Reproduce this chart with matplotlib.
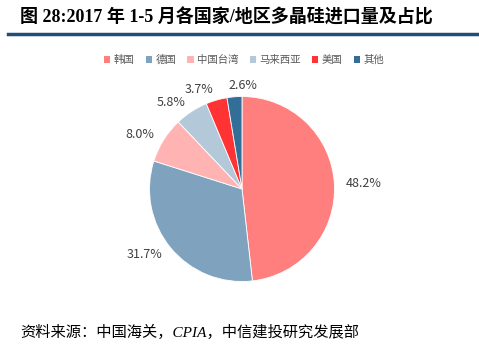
import matplotlib.pyplot as plt
from matplotlib.lines import Line2D
from matplotlib.patches import Patch

plt.rcParams['font.family'] = ['Noto Sans CJK SC', 'DejaVu Sans']

countries = ['韩国', '德国', '中国台湾', '马来西亚', '美国', '其他']
shares = [48.2, 31.7, 8.0, 5.8, 3.7, 2.6]
colors = ['#FF7F7F', '#7FA3BE', '#FFB3B3', '#B3C8D8', '#FF3333', '#336E99']

fig = plt.figure(figsize=(4.79, 3.52), dpi=100)

# title + blue rule
fig.text(20 / 479, 1 - 17 / 352, '图 28:2017 年 1-5 月各国家/地区多晶硅进口量及占比',
         fontsize=13, fontweight='bold', va='center', ha='left',
         family=['Liberation Serif', 'Noto Sans CJK SC'])
fig.add_artist(Line2D([8 / 479, 1], [1 - 34 / 352, 1 - 34 / 352],
                      color='#1F4E79', lw=2.5, transform=fig.transFigure))

ax = fig.add_axes([(242 - 92.5) / 479, 1 - (189 + 92.5) / 352,
                   185 / 479, 185 / 352])
labels = ['%.1f%%' % v for v in shares]
wedges, texts = ax.pie(shares, colors=colors, startangle=90, counterclock=False,
                       labels=labels, labeldistance=1.12,
                       wedgeprops=dict(edgecolor='white', linewidth=0.6),
                       textprops=dict(fontsize=9, color='#404040'))
ax.set_xlim(-1, 1)
ax.set_ylim(-1, 1)
ax.set_aspect('equal')
# smallest slice label sits centred above its wedge
texts[-1].set_ha('center')
texts[-1].set_x(texts[-1].get_position()[0] + 0.1)

handles = [Patch(facecolor=c, edgecolor='none') for c in colors]
fig.legend(handles, countries, loc='center', bbox_to_anchor=(244 / 479, 1 - 60 / 352),
           ncol=6, frameon=False, fontsize=7.5, handlelength=0.6, handleheight=0.6,
           handletextpad=0.3, columnspacing=1.1, labelcolor='#595959')

fig.text(20 / 479, 1 - 332 / 352, '资料来源：中国海关，CPIA，中信建投研究发展部',
         fontsize=11, style='italic', va='center', ha='left',
         family=['Liberation Serif', 'Noto Sans CJK SC'])

fig.savefig('out.png', dpi=100)
